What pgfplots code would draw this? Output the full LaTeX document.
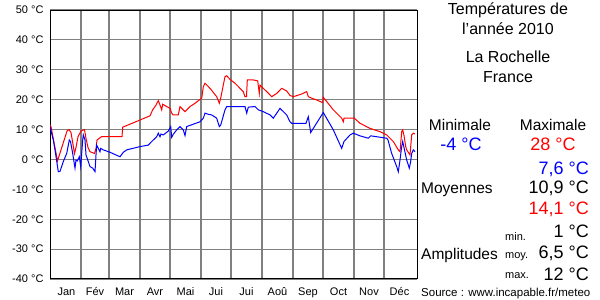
\documentclass[border=0pt]{standalone}
\usepackage{fontspec}
\setmainfont{Liberation Sans}
\usepackage{pgfplots}
\pgfplotsset{compat=1.18}
\begin{document}
\begin{tikzpicture}
\path[use as bounding box] (0pt,0pt) rectangle (600pt,300pt);
\begin{axis}[
 at={(50pt,21pt)}, anchor=south west,
 scale only axis, width=367pt, height=269pt,
 xmin=0, xmax=367, ymin=-40, ymax=50,
 ytick={-40,-30,...,50},
 yticklabels={-40 °C,-30 °C,-20 °C,-10 °C,0 °C,10 °C,20 °C,30 °C,40 °C,50 °C},
 xtick={16.5,45,74.5,105,135.5,166,196.5,227.5,258,288.5,319,349.5},
 xticklabels={Jan,Fév,Mar,Avr,Mai,Jui,Jui,Aoû,Sep,Oct,Nov,Déc},
 minor xtick={31,59,90,120,151,181,212,243,273,304,334},
 major tick length=0pt, minor tick length=0pt,
 ymajorgrids, xminorgrids,
 grid style={gray, line width=1.2pt},
 axis line style={black, line width=1pt},
 ticklabel style={font=\fontsize{11}{11}\selectfont},
 yticklabel style={xshift=-3pt},
 xticklabel style={yshift=-5pt},
]
\addplot[red, line width=1pt] coordinates {
(0,11.5)(1,11)(7.5,-0.5)(17,9.5)(19,10)(21,9)(24.5,2)(26,4)(28,7.6)(31,9.5)(34.5,10)(36,7)(38,4)(40,2.6)(44.5,2)(46,3.7)(47,6.5)(49,7)(51.5,7.6)(72,7.6)(72.7,10.8)(80,11.8)(90,13.2)(100,14.6)(102.7,16.6)(106,18.2)(108.3,19.7)(110,18.2)(111.7,16.6)(112.7,18.5)(116.7,17.7)(120,17.1)(121.7,15.5)(123,14.9)(128.3,14.9)(130,17.7)(131.7,17.1)(135,16)(140,17.7)(145,18.8)(151.7,20.5)(153.3,24.3)(155,25.5)(160,23.8)(166.7,21)(169.3,18.8)(170.7,20.5)(175,27.7)(176.7,28)(180,26.8)(185,25.5)(190,23.8)(193.3,22.7)(195,21)(196.5,21)(197.3,26.6)(203.3,26.6)(207.7,26.3)(209.3,22.1)(210,24.9)(211.7,24.3)(216.7,22.7)(221.7,21)(226.7,22.1)(231.7,23.8)(236.7,22.9)(240,21.4)(243.3,21)(251.7,21.9)(256.7,22.7)(258.3,21)(261.7,20.5)(266.7,19.9)(272.7,19)(273.3,20.8)(283.3,16.6)(291.7,13.8)(293.3,12.6)(294,13.8)(304.3,13.8)(310,12.1)(320,10.4)(330,9.3)(336.7,8.2)(343.3,6)(348.3,3.2)(350,2.6)(351.7,9.3)(352.7,9.9)(354,8)(355.7,4.3)(356.7,3.2)(360,1.5)(361.7,8.2)(363.3,8.8)(365,8.5)
};
\addplot[blue, line width=1pt] coordinates {
(0,11)(3.3,6.5)(5,3.2)(8.3,-4.1)(10,-4)(13.3,-0.7)(16.7,2)(19.3,6.5)(20.5,6)(22.7,2)(25,-2.9)(26,-0.2)(27.3,-0.5)(29.3,0.9)(30.7,-2.4)(32.7,6.5)(33.3,8.2)(35,6.5)(36,1.5)(38.3,-0.7)(40,-2.4)(42.7,-2.9)(45,-4.1)(46,1.5)(46.7,4.8)(48.3,3.7)(50,2.6)(50.7,3.7)(53.3,3.2)(60,2.4)(70,0.9)(73.3,2.4)(76.7,3.2)(90,4.3)(98.3,4.8)(101.7,6)(106.7,7.6)(108.3,8.8)(110,7.6)(111,8.5)(113.3,8.2)(118.3,9.5)(120.7,11)(121.7,7.4)(123,8.3)(126.7,9.9)(130,11)(133.3,9.9)(135,8)(136.7,11)(143.3,11.8)(150,12.6)(153.3,13.8)(155,15.5)(158.3,15.1)(161.7,14.9)(166.7,13.8)(169.3,11)(170.7,11.5)(175,16.6)(176.7,17.7)(195,17.7)(196.7,15.5)(198.3,17.5)(205,17.7)(208.3,16.6)(213.3,16)(220,14.9)(223.3,13.8)(230,17.1)(236.7,14.9)(240,12.6)(241.7,12.1)(256,12.1)(258.3,14.3)(260.7,9)(263.3,10.4)(273.3,15.7)(283.3,9.9)(291.7,3.7)(294,6)(300,8.2)(303.3,8.8)(310,7.9)(318.3,7.1)(320.7,7.9)(326.7,7.6)(336.7,7.1)(338,6.5)(341.7,2)(346.7,-2.4)(348.3,-4.1)(350,-0.2)(351.7,4.3)(352.7,6)(354,4)(356.7,-0.2)(359.3,-2.9)(360.5,-1)(361.7,2)(363.3,3.2)(365,2.6)
};
\end{axis}
\begin{scope}[every node/.style={inner sep=0pt}]
\node[font=\fontsize{16}{16}\selectfont] at (508pt,290pt) {Températures de};
\node[font=\fontsize{16}{16}\selectfont] at (508pt,271.7pt) {l'année 2010};
\node[font=\fontsize{16}{16}\selectfont] at (508pt,243.3pt) {La Rochelle};
\node[font=\fontsize{16}{16}\selectfont] at (508pt,223.3pt) {France};
\node[font=\fontsize{15.5}{15.5}\selectfont] at (460pt,175pt) {Minimale};
\node[font=\fontsize{15.5}{15.5}\selectfont] at (553pt,175pt) {Maximale};
\node[font=\fontsize{18}{18}\selectfont, text=blue] at (461pt,156pt) {-4 °C};
\node[font=\fontsize{18}{18}\selectfont, text=red] at (553pt,156pt) {28 °C};
\node[font=\fontsize{18}{18}\selectfont, text=blue, anchor=east] at (589pt,131pt) {7,6 °C};
\node[font=\fontsize{15.5}{15.5}\selectfont, anchor=west] at (421pt,110.7pt) {Moyennes};
\node[font=\fontsize{18}{18}\selectfont, anchor=east] at (589pt,111.7pt) {10,9 °C};
\node[font=\fontsize{18}{18}\selectfont, text=red, anchor=east] at (589pt,91pt) {14,1 °C};
\node[font=\fontsize{11}{11}\selectfont, anchor=west] at (505pt,63.3pt) {min.};
\node[font=\fontsize{18}{18}\selectfont, anchor=east] at (589pt,68.3pt) {1 °C};
\node[font=\fontsize{15.5}{15.5}\selectfont, anchor=west] at (421pt,45pt) {Amplitudes};
\node[font=\fontsize{11}{11}\selectfont, anchor=west] at (505pt,43.3pt) {moy.};
\node[font=\fontsize{18}{18}\selectfont, anchor=east] at (589pt,46.7pt) {6,5 °C};
\node[font=\fontsize{11}{11}\selectfont, anchor=west] at (505pt,24pt) {max.};
\node[font=\fontsize{18}{18}\selectfont, anchor=east] at (589pt,26pt) {12 °C};
\node[font=\fontsize{11.5}{11.5}\selectfont, anchor=west] at (421pt,6.7pt) {Source : www.incapable.fr/meteo};
\end{scope}
\end{tikzpicture}
\end{document}
